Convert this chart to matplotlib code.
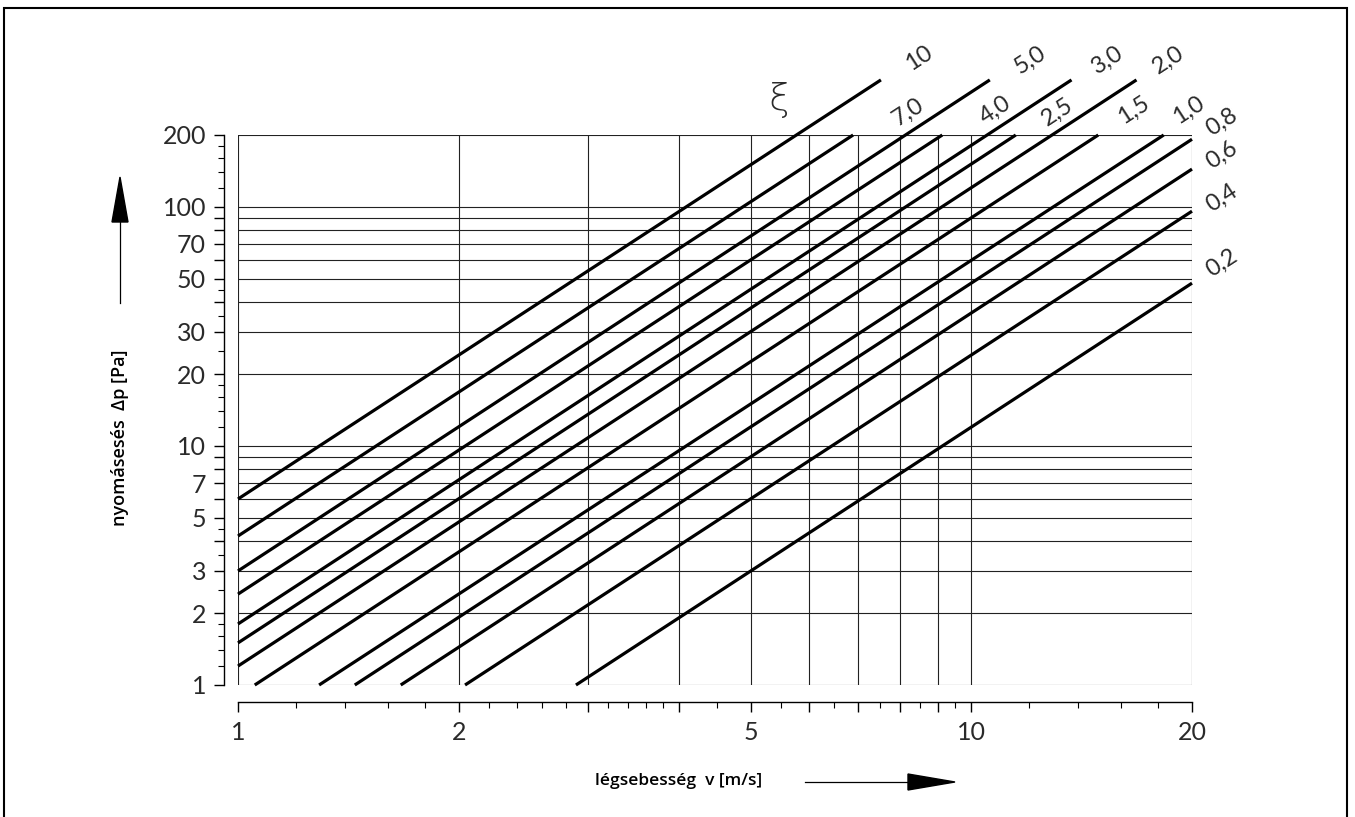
import matplotlib
matplotlib.use('Agg')
import matplotlib.pyplot as plt
from matplotlib.ticker import FixedLocator, FixedFormatter, NullFormatter
from matplotlib.patches import Rectangle, Polygon
from matplotlib.lines import Line2D
import matplotlib.transforms as mtransforms

# ---------------- data ----------------
xi_labels = ['10', '7,0', '5,0', '4,0', '3,0', '2,5', '2,0', '1,5', '1,0', '0,8', '0,6', '0,4', '0,2']
v_start = [1.0, 1.0, 1.0, 1.0, 1.0, 1.0, 1.0, 1.054, 1.29, 1.443, 1.667, 2.04, 2.89]
dp_start = [6.0, 4.2, 3.0, 2.4, 1.8, 1.5, 1.2, 1.0, 1.0, 1.0, 1.0, 1.0, 1.0]
v_end = [7.53, 6.9, 10.6, 9.13, 13.7, 11.5, 16.8, 14.9, 18.3, 20.0, 20.0, 20.0, 20.0]
dp_end = [340, 200, 340, 200, 340, 200, 340, 200, 200, 192, 144, 96, 48]

x_tick_labels = [1, 2, 5, 10, 20]
y_tick_labels = [1, 2, 3, 5, 7, 10, 20, 30, 50, 70, 100, 200]
x_grid = [1, 2, 3, 4, 5, 6, 7, 8, 9, 10, 20]
y_grid = [1, 2, 3, 4, 5, 6, 7, 8, 9, 10, 20, 30, 40, 50, 60, 70, 80, 90, 100, 200]
x_minor = [1.2, 1.4, 1.6, 1.8, 2.2, 2.4, 2.6, 2.8, 3.2, 3.4, 3.6, 3.8, 4.5,
           5.5, 6.5, 7.5, 8.5, 9.5, 12, 14, 16, 18]
y_minor = [1.2, 1.4, 1.6, 1.8, 2.5, 3.5, 4.5, 12, 14, 16, 18, 25, 35, 45,
           120, 140, 160, 180]

# label offsets (pixels) from each line's end point
label_offsets = [(38, 22), (55, 23), (40, 20), (53, 25), (36, 20), (42, 23),
                 (32, 20), (35, 25), (25, 25), (30, 17), (30, 14), (30, 13), (30, 20)]

W, H = 1355, 817
DPI = 100
NUM_FONT = ['Lato', 'DejaVu Sans']
NUM_COLOR = '#2a2a2a'

fig = plt.figure(figsize=(W / DPI, H / DPI), dpi=DPI)
fig.patch.set_facecolor('white')


def px(x, y):
    return (x / W, 1 - y / H)


ax = fig.add_axes([238 / W, 1 - 685 / H, (1192 - 238) / W, (685 - 135) / H])
ax.set_xscale('log')
ax.set_yscale('log')
ax.set_xlim(1, 20)
ax.set_ylim(1, 200)

# grid
for gx in x_grid:
    ax.axvline(gx, color='#222222', lw=0.8, zorder=1)
for gy in y_grid:
    ax.axhline(gy, color='#222222', lw=0.8, zorder=1)

# lines
for i in range(len(xi_labels)):
    ax.plot([v_start[i], v_end[i]], [dp_start[i], dp_end[i]],
            color='black', lw=2.3, solid_capstyle='butt', clip_on=False, zorder=3)
    ax.annotate(xi_labels[i], xy=(v_end[i], dp_end[i]), xytext=label_offsets[i],
                textcoords='offset pixels', rotation=33, ha='center', va='center',
                fontsize=17, family=NUM_FONT, fontweight='normal', color=NUM_COLOR,
                annotation_clip=False)

# xi symbol
trans = mtransforms.blended_transform_factory(ax.transData, ax.transAxes)
ax.text(5.46, 1.064, 'ξ', transform=trans, ha='center', va='center',
        fontsize=27, family=['DejaVu Sans'], fontweight='light', color=NUM_COLOR, clip_on=False)

# spines as offset rulers
for s in ['top', 'right']:
    ax.spines[s].set_visible(False)
ax.spines['left'].set_position(('outward', 10))
ax.spines['bottom'].set_position(('outward', 12))
ax.spines['left'].set_linewidth(1.0)
ax.spines['bottom'].set_linewidth(1.0)

ax.xaxis.set_major_locator(FixedLocator(x_grid))
ax.xaxis.set_major_formatter(FixedFormatter([str(v) if v in x_tick_labels else '' for v in x_grid]))
ax.xaxis.set_minor_locator(FixedLocator(x_minor))
ax.xaxis.set_minor_formatter(NullFormatter())
ax.yaxis.set_major_locator(FixedLocator(y_grid))
ax.yaxis.set_major_formatter(FixedFormatter([str(v) if v in y_tick_labels else '' for v in y_grid]))
ax.yaxis.set_minor_locator(FixedLocator(y_minor))
ax.yaxis.set_minor_formatter(NullFormatter())

ax.tick_params(axis='both', which='major', length=7, width=1.0, color='black',
               labelsize=18, labelcolor=NUM_COLOR, pad=6)
ax.tick_params(axis='both', which='minor', length=4, width=0.8, color='black')
ax.tick_params(axis='x', which='major', pad=7)
for lab in ax.get_xticklabels() + ax.get_yticklabels():
    lab.set_family(NUM_FONT)
    lab.set_fontweight('normal')

# axis titles
fig.text(*px(120, 438), 'nyomásesés  Δp [Pa]', rotation=90, ha='center', va='center',
         fontsize=13, fontweight='semibold', family=['Open Sans', 'DejaVu Sans'])
fig.text(*px(679, 781), 'légsebesség  v [m/s]', ha='center', va='center',
         fontsize=12.5, fontweight='semibold', family=['Open Sans', 'DejaVu Sans'])

# arrows
fig.add_artist(Line2D([px(120, 303)[0], px(120, 222)[0]], [px(120, 303)[1], px(120, 222)[1]],
                      transform=fig.transFigure, color='black', lw=0.9))
fig.add_artist(Polygon([px(120, 177), px(112, 222), px(128, 222)], closed=True,
                       transform=fig.transFigure, color='black'))
fig.add_artist(Line2D([px(805, 782)[0], px(910, 782)[0]], [px(805, 782)[1], px(910, 782)[1]],
                      transform=fig.transFigure, color='black', lw=0.9))
fig.add_artist(Polygon([px(955, 782), px(908, 774), px(908, 790)], closed=True,
                       transform=fig.transFigure, color='black'))

# outer frame
x0, y0 = px(4, 822)
x1, y1 = px(1347, 8)
fig.add_artist(Rectangle((x0, y0), x1 - x0, y1 - y0, transform=fig.transFigure,
                         fill=False, edgecolor='black', lw=1.5, clip_on=False))

fig.savefig('out.png', dpi=DPI)
